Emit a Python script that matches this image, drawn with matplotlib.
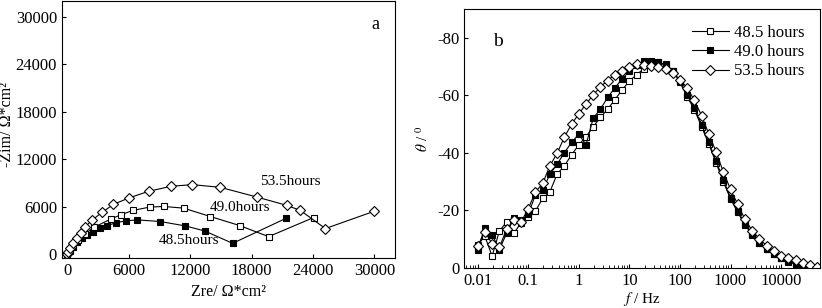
import numpy as np
import matplotlib
matplotlib.use("Agg")
import matplotlib.pyplot as plt
from matplotlib.ticker import LogLocator, NullFormatter, FixedLocator, FixedFormatter

plt.rcParams['font.family'] = ['Liberation Serif', 'DejaVu Serif']
plt.rcParams['mathtext.fontset'] = 'stix'
plt.rcParams['axes.unicode_minus'] = False

# ---- panel a: Nyquist data (Zre, -Zim) ----
zre_485 = [0, 293, 554, 945, 1433, 1987, 2573, 3224, 3876, 4788, 5765, 6807, 9087, 11530, 13419, 16155, 21399]
zim_485 = [0, 424, 933, 1570, 1994, 2418, 2843, 3267, 3564, 3988, 4200, 4328, 4116, 3564, 2928, 1358, 4540]

zre_490 = [0, 293, 619, 1107, 1759, 2638, 4299, 5244, 6416, 8045, 9413, 11367, 13973, 16838, 19672, 24070]
zim_490 = [0, 594, 1146, 1782, 2546, 3394, 4455, 4964, 5516, 5940, 6025, 5813, 4752, 3607, 2206, 4625]

zre_535 = [0, 65, 293, 619, 945, 1368, 1791, 2475, 3387, 4527, 5993, 7947, 10129, 12214, 14950, 18532, 21464, 22767, 25210, 30000]
zim_535 = [0, 212, 721, 1358, 1994, 2716, 3479, 4328, 5261, 6280, 7086, 7934, 8571, 8783, 8443, 7213, 6152, 5516, 3225, 5431]

# ---- panel b: Bode phase data (degrees), 7 points per decade from 0.01 Hz ----
freq = 0.01 * 10 ** (np.arange(48) / 7)

theta_485 = [-8, -11, -4.1, -12.8, -16.0, -12.0, -15.7, -17.7, -19.8, -24.2, -26.5, -32.6, -35.5, -39.3, -42.8, -45.6,
             -49.1, -52.3, -55.2, -58.5, -61.9, -64.9, -67.2, -69.2, -70.9, -71.5, -70.7, -68.6, -64.5, -59.5, -55.0, -49.0,
             -43.0, -36.5, -30.0, -24.0, -19.3, -15.0, -11.5, -8.5, -6.5, -4.7, -3.3, -2.2, -1.3, -0.5, 0.0, 0.0]
theta_490 = [-6.4, -14.0, -11.6, -6.4, -12.0, -17.2, -16.5, -18.6, -25.5, -27.0, -32.6, -36.0, -40.1, -43.6, -46.5, -42.8,
             -52.1, -55.2, -59.3, -62.6, -65.7, -68.4, -70.4, -71.8, -71.9, -71.5, -70.4, -68.6, -64.9, -60.1, -55.6, -49.8,
             -43.6, -37.2, -30.6, -24.4, -19.8, -15.4, -11.9, -8.7, -6.7, -4.9, -3.5, -2.3, -1.4, -0.6, 0.0, 0.0]
theta_535 = [-7.6, -12.6, -8.4, -7.2, -13.4, -16.6, -15.9, -20.6, -26.4, -29.4, -35.5, -39.9, -45.4, -50.0, -53.5, -57.0,
             -60.1, -63.0, -65.1, -67.2, -68.6, -69.8, -70.7, -70.6, -70.1, -69.8, -69.0, -67.7, -65.4, -62.6, -58.2, -52.9,
             -46.5, -40.4, -33.4, -27.3, -22.1, -16.9, -13.0, -10.1, -7.8, -5.8, -4.3, -3.3, -2.6, -1.7, -0.9, -0.3]

fig = plt.figure(figsize=(8.22, 3.08), dpi=100)
ax1 = fig.add_axes([0.0754, 0.1623, 0.4051, 0.834])
ax2 = fig.add_axes([0.5645, 0.130, 0.4331, 0.841])

lw = 0.8
sq = dict(marker='s', markersize=5, markeredgewidth=0.8, color='black', linewidth=lw)
dm = dict(marker='D', markersize=5.5, markeredgewidth=0.8, color='black', linewidth=lw)

# panel a
ax1.plot(zre_485, zim_485, markerfacecolor='black', **sq)
ax1.plot(zre_490, zim_490, markerfacecolor='white', **sq)
ax1.plot(zre_535, zim_535, markerfacecolor='white', **dm)
ax1.set_xlim(-500, 32000)
ax1.set_ylim(-500, 32000)
ax1.set_xticks([0, 6000, 12000, 18000, 24000, 30000])
ax1.set_yticks([0, 6000, 12000, 18000, 24000, 30000])
ax1.tick_params(direction='in', labelsize=12, length=3)
ax1.set_xlabel('Zre/ Ω*cm²', fontsize=11.5)
ax1.set_ylabel('-Zim/ Ω*cm²', fontsize=11.5)
ax1.yaxis.set_label_coords(-0.14, 0.52)
ax1.text(18800, 8700, '53.5hours', fontsize=11)
ax1.text(13900, 5400, '49.0hours', fontsize=11)
ax1.text(8900, 1300, '48.5hours', fontsize=11)
ax1.text(29700, 28500, 'a', fontsize=13)

# panel b
ax2.plot(freq, theta_485, markerfacecolor='white', label='48.5 hours', **sq)
ax2.plot(freq, theta_490, markerfacecolor='black', label='49.0 hours', **sq)
ax2.plot(freq, theta_535, markerfacecolor='white', label='53.5 hours', **dm)
ax2.set_xscale('log')
ax2.set_xlim(10 ** -2.27, 10 ** 4.77)
ax2.set_ylim(0, -90)
ax2.xaxis.set_major_locator(FixedLocator([0.01, 0.1, 1, 10, 100, 1000, 10000]))
ax2.xaxis.set_major_formatter(FixedFormatter(['0.01', '0.1', '1', '10', '100', '1000', '10000']))
ax2.xaxis.set_minor_locator(LogLocator(base=10, subs=np.arange(2, 10), numticks=20))
ax2.xaxis.set_minor_formatter(NullFormatter())
ax2.set_yticks([0, -20, -40, -60, -80])
ax2.tick_params(direction='in', labelsize=12, length=3)
ax2.tick_params(which='minor', direction='in', length=2)
ax2.set_xlabel(r'$f$ / Hz', fontsize=11, labelpad=1)
ax2.set_ylabel(r'$\theta$ / $^0$', fontsize=11)
ax2.text(0.02, -77, 'b', fontsize=14)
ax2.legend(loc='upper right', frameon=False, fontsize=12, handlelength=2.2,
           handletextpad=0.3, labelspacing=0.2, borderaxespad=0.55)

fig.savefig('out.png', dpi=100)
